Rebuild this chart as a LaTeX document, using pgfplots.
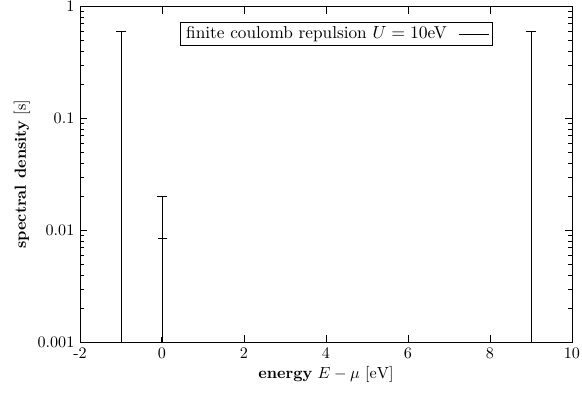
\documentclass[border=0pt]{standalone}
\usepackage{pgfplots}
\pgfplotsset{compat=1.18}
\begin{document}
\begin{tikzpicture}
\path[use as bounding box] (-49.5bp,-32.2bp) rectangle (310.6bp,211.8bp);
\begin{axis}[
  scale only axis,
  width=304.4bp, height=207.8bp,
  at={(0,0)}, anchor=south west,
  ymode=log,
  log origin y=infty,
  xmin=-2, xmax=10, ymin=0.001, ymax=1,
  xtick={-2,0,2,4,6,8,10},
  xticklabels={-2,0,2,4,6,8,10},
  ytick={0.001,0.01,0.1,1},
  yticklabels={0.001,0.01,0.1,1},
  tick align=inside,
  major tick length=4.5bp,
  minor tick length=2.5bp,
  tick style={black, line width=0.5pt},
  axis line style={line width=0.6pt},
  xlabel={\textbf{energy} $E-\mu$ $[\mathrm{eV}]$},
  ylabel={\textbf{spectral density} $[\mathrm{s}]$},
  xlabel style={yshift=2pt},
  ylabel style={yshift=-2pt},
  legend plot pos=right,
  legend style={at={(0.521,0.918)}, anchor=center, draw=black, line width=0.5pt,
    inner xsep=1.5bp, inner ysep=0.5bp, column sep=5bp,
    font=\fontsize{10.7}{12}\selectfont},
  legend cell align=right,
]
\addplot[ycomb, black, line width=0.5pt, mark=-, mark size=3bp,
  mark options={line width=0.5pt},
  legend image code/.code={\draw[black,line width=0.5pt] (0bp,0bp) -- (15.5bp,0bp); \path (0bp,0bp) -- (19bp,0bp);}]
  coordinates {(-1,0.598) (0,0.0201) (0.01,0.0085) (9,0.598)};
\addlegendentry{finite coulomb repulsion $U=10$eV}
\addplot[ycomb, black, line width=1.2pt, no marks, forget plot]
  coordinates {(0.005,0.00112)};
\end{axis}
\end{tikzpicture}
\end{document}
